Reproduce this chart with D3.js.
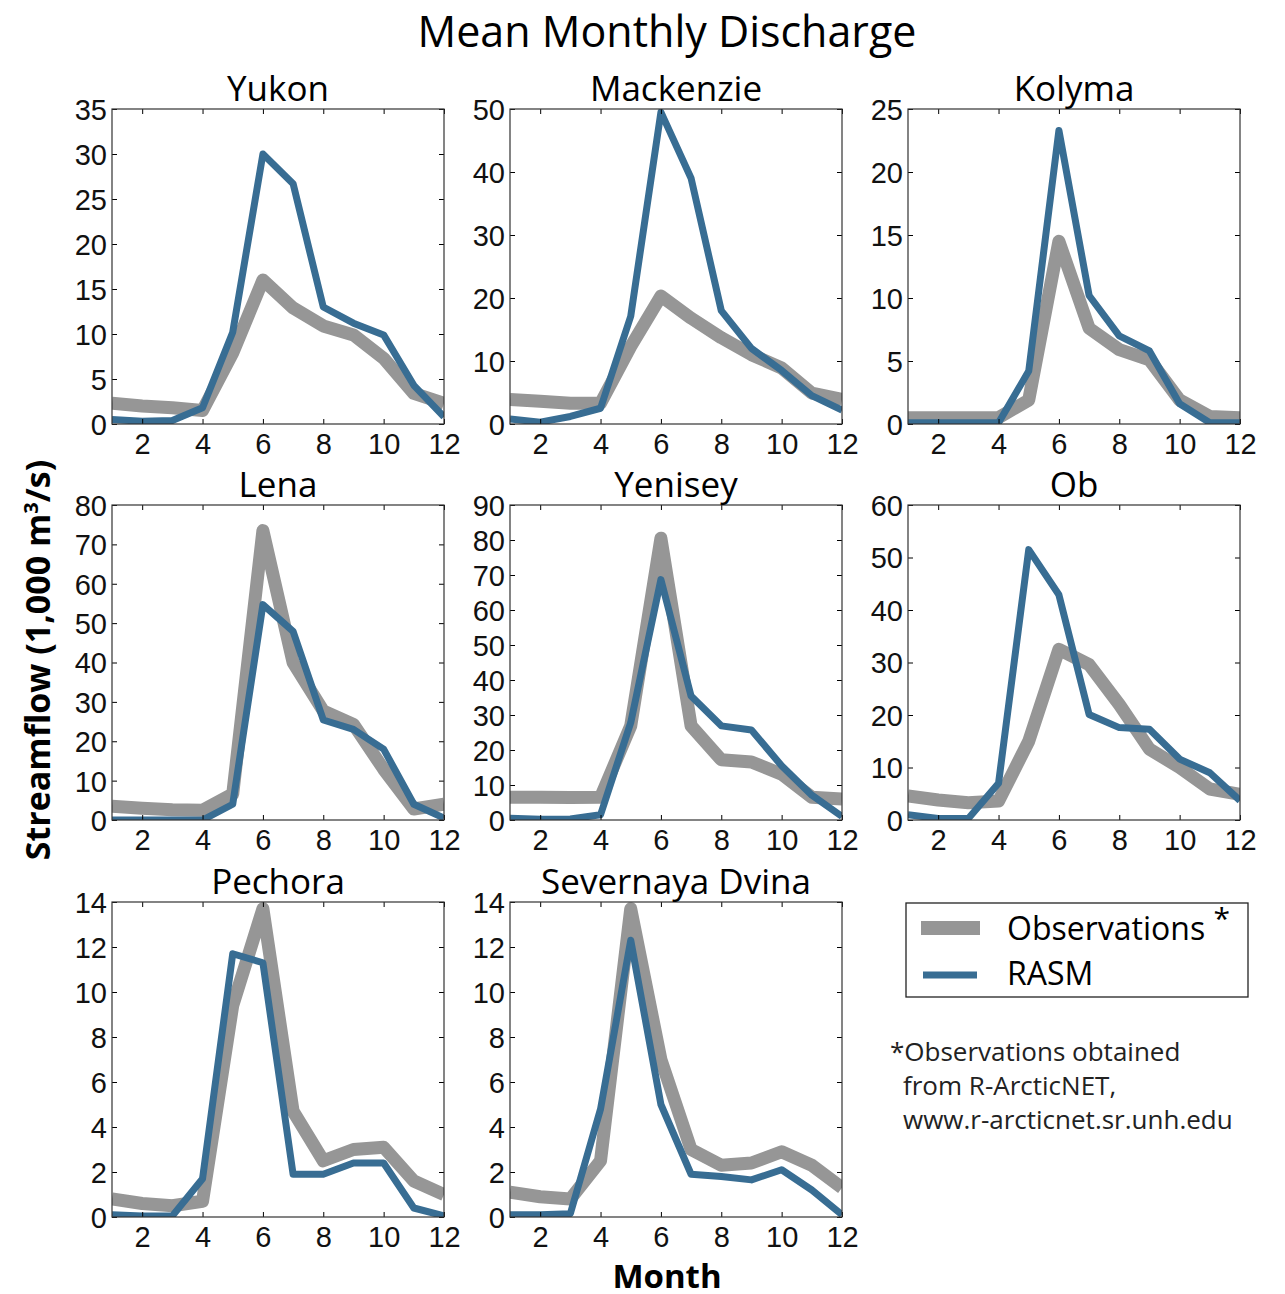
<!DOCTYPE html>
<html>
<head>
<meta charset="utf-8">
<script src="https://cdn.jsdelivr.net/npm/d3@7"></script>
<style>
  body { margin: 0; background: #fff; }
  svg { font-family: "Open Sans", "DejaVu Sans", sans-serif; }
  .axis path, .axis line { stroke: #000; }
</style>
</head>
<body>
<script>
var months = [1,2,3,4,5,6,7,8,9,10,11,12];
var xTicks = [2,4,6,8,10,12];

var rivers = ["Yukon","Mackenzie","Kolyma","Lena","Yenisey","Ob","Pechora","Severnaya Dvina"];
var yMax  = [35, 50, 25, 80, 90, 60, 14, 14];
var yStep = [5, 10, 5, 10, 10, 10, 2, 2];

// observations (gray) and RASM (blue), 1,000 m3/s
var yukonObs      = [2.3, 2.0, 1.8, 1.5, 7.9, 16.0, 12.9, 10.9, 9.9, 7.3, 3.4, 2.3];
var yukonRasm     = [0.5, 0.3, 0.4, 1.8, 10.2, 30.0, 26.7, 13.0, 11.2, 9.9, 4.3, 0.8];
var mackenzieObs  = [3.9, 3.6, 3.3, 3.3, 12.3, 20.3, 16.8, 13.7, 11.0, 8.9, 4.9, 3.9];
var mackenzieRasm = [0.8, 0.3, 1.2, 2.5, 17.1, 49.5, 39.0, 18.0, 12.0, 8.5, 4.5, 2.2];
var kolymaObs     = [0.5, 0.5, 0.5, 0.5, 1.9, 14.5, 7.6, 5.9, 5.1, 1.9, 0.6, 0.5];
var kolymaRasm    = [0.1, 0.1, 0.1, 0.1, 4.2, 23.3, 10.2, 7.0, 5.8, 1.6, 0.1, 0.1];
var lenaObs       = [3.5, 3.0, 2.6, 2.5, 6.6, 73.5, 40.0, 27.7, 24.3, 12.9, 2.8, 4.0];
var lenaRasm      = [0.0, 0.0, 0.0, 0.0, 4.0, 54.7, 47.9, 25.4, 23.0, 18.0, 4.0, 0.5];
var yeniseyObs    = [6.5, 6.5, 6.4, 6.5, 26.9, 80.5, 26.9, 17.2, 16.6, 13.1, 6.5, 6.0];
var yeniseyRasm   = [0.5, 0.2, 0.3, 1.5, 27.8, 68.7, 35.4, 26.9, 25.7, 15.5, 7.1, 1.0];
var obObs         = [4.6, 3.8, 3.3, 3.6, 15.0, 32.5, 29.6, 22.0, 13.5, 10.0, 5.9, 4.9];
var obRasm        = [1.0, 0.3, 0.3, 7.0, 51.5, 42.9, 20.1, 17.6, 17.3, 11.6, 9.0, 3.7];
var pechoraObs    = [0.8, 0.6, 0.5, 0.7, 9.4, 13.7, 4.7, 2.5, 3.0, 3.1, 1.6, 1.0];
var pechoraRasm   = [0.1, 0.05, 0.05, 1.7, 11.7, 11.3, 1.9, 1.9, 2.4, 2.4, 0.4, 0.05];
var dvinaObs      = [1.1, 0.9, 0.8, 2.5, 13.7, 7.0, 3.0, 2.3, 2.4, 2.9, 2.3, 1.3];
var dvinaRasm     = [0.1, 0.1, 0.15, 4.8, 12.3, 5.0, 1.9, 1.8, 1.65, 2.1, 1.2, 0.1];

var obsSeries  = [yukonObs, mackenzieObs, kolymaObs, lenaObs, yeniseyObs, obObs, pechoraObs, dvinaObs];
var rasmSeries = [yukonRasm, mackenzieRasm, kolymaRasm, lenaRasm, yeniseyRasm, obRasm, pechoraRasm, dvinaRasm];

var obsColor = "#969696";
var rasmColor = "#386d93";

var width = 1285, height = 1294;
var plotW = 332, plotH = 315;
var colX = [112, 510, 908];
var rowY = [109, 505, 902];

var svg = d3.select("body").append("svg")
    .attr("width", width)
    .attr("height", height);

svg.append("text")
    .attr("x", 667).attr("y", 47)
    .attr("text-anchor", "middle")
    .style("font-size", "43px")
    .text("Mean Monthly Discharge");

var x = d3.scaleLinear().domain([1, 12]).range([0, plotW]);

rivers.forEach(function(name, i) {
    var tx = colX[i % 3], ty = rowY[Math.floor(i / 3)];
    var y = d3.scaleLinear().domain([0, yMax[i]]).range([plotH, 0]);
    var yTicks = d3.range(0, yMax[i] + 0.001, yStep[i]);

    var g = svg.append("g").attr("transform", "translate(" + tx + "," + ty + ")");

    g.append("clipPath").attr("id", "clip" + i)
      .append("rect").attr("width", plotW).attr("height", plotH);

    var line = d3.line()
        .x(function(d, k) { return x(months[k]); })
        .y(function(d) { return y(d); });

    var lines = g.append("g").attr("clip-path", "url(#clip" + i + ")");
    lines.append("path")
        .attr("d", line(obsSeries[i]))
        .attr("fill", "none")
        .attr("stroke", obsColor)
        .attr("stroke-width", 13)
        .attr("stroke-linejoin", "round");
    lines.append("path")
        .attr("d", line(rasmSeries[i]))
        .attr("fill", "none")
        .attr("stroke", rasmColor)
        .attr("stroke-width", 7)
        .attr("stroke-linejoin", "round");

    // axes, ticks pointing inward on all sides
    var bottom = g.append("g").attr("class", "axis")
        .attr("transform", "translate(0," + plotH + ")")
        .call(d3.axisBottom(x).tickValues(xTicks).tickSizeInner(-5).tickSizeOuter(0).tickPadding(9));
    var left = g.append("g").attr("class", "axis")
        .call(d3.axisLeft(y).tickValues(yTicks).tickSizeInner(-5).tickSizeOuter(0).tickPadding(5));
    g.append("g").attr("class", "axis")
        .call(d3.axisTop(x).tickValues(xTicks).tickSizeInner(-5).tickSizeOuter(0).tickFormat(""));
    g.append("g").attr("class", "axis")
        .attr("transform", "translate(" + plotW + ",0)")
        .call(d3.axisRight(y).tickValues(yTicks).tickSizeInner(-5).tickSizeOuter(0).tickFormat(""));
    g.selectAll(".axis path.domain").remove();

    bottom.selectAll("text").style("font-size", "29px").attr("fill", "#111").attr("dy", "0.72em");
    left.selectAll("text").style("font-size", "29px").attr("fill", "#111").attr("dy", "0.36em");

    g.append("rect")
        .attr("width", plotW).attr("height", plotH)
        .attr("fill", "none").attr("stroke", "#333").attr("stroke-width", 1.2);

    g.append("text")
        .attr("x", plotW / 2).attr("y", -8)
        .attr("text-anchor", "middle")
        .style("font-size", "35px")
        .text(name);
});

// axis titles
svg.append("text")
    .attr("transform", "translate(50,660) rotate(-90)")
    .attr("text-anchor", "middle")
    .style("font-size", "34px").style("font-weight", "bold")
    .html("Streamflow (1,000 m<tspan dy='-12' style='font-size:20px'>3</tspan><tspan dy='12'>/s)</tspan>");

svg.append("text")
    .attr("x", 667).attr("y", 1288)
    .attr("text-anchor", "middle")
    .style("font-size", "33px").style("font-weight", "bold")
    .text("Month");

// legend
var legend = svg.append("g");
legend.append("rect")
    .attr("x", 906).attr("y", 903).attr("width", 342).attr("height", 94)
    .attr("fill", "#fff").attr("stroke", "#222").attr("stroke-width", 1.3);
legend.append("line")
    .attr("x1", 921).attr("x2", 980).attr("y1", 928).attr("y2", 928)
    .attr("stroke", obsColor).attr("stroke-width", 14);
legend.append("line")
    .attr("x1", 923).attr("x2", 977).attr("y1", 975).attr("y2", 975)
    .attr("stroke", rasmColor).attr("stroke-width", 7);
legend.append("text")
    .attr("x", 1007).attr("y", 940)
    .style("font-size", "32px")
    .html("Observations <tspan dy='-11' style='font-size:30px'>*</tspan>");
legend.append("text")
    .attr("x", 1007).attr("y", 985)
    .style("font-size", "32px")
    .text("RASM");

var notes = ["*Observations obtained", " from R-ArcticNET,", " www.r-arcticnet.sr.unh.edu"];
svg.append("g").selectAll("text")
    .data(notes).enter().append("text")
    .attr("x", function(d, k) { return k === 0 ? 890 : 903; })
    .attr("y", function(d, k) { return 1061 + k * 34; })
    .style("font-size", "26px")
    .attr("fill", "#222")
    .text(function(d) { return d.trim(); });
</script>
</body>
</html>
